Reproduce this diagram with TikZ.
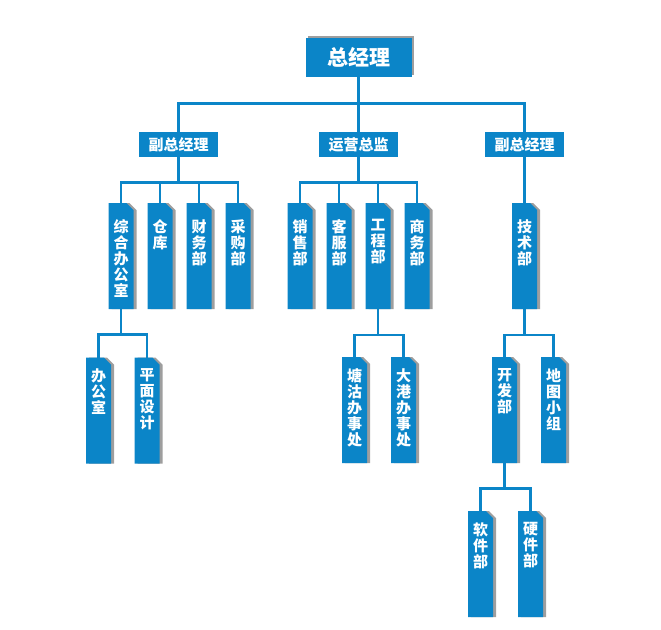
\documentclass[tikz,border=0pt]{standalone}
\usepackage{fontspec}
\newfontfamily\cjk{Noto Sans CJK SC}
\definecolor{obl}{RGB}{11,133,200}
\definecolor{shd}{RGB}{158,158,158}
\tikzset{
  conn/.style={draw=obl, line width=2.6pt},
  gmbox/.style={fill=obl, text=white, minimum width=106pt, minimum height=39pt, inner sep=0pt,
    font=\cjk\bfseries\fontsize{21}{24}\selectfont},
  lvtwo/.style={fill=obl, text=white, minimum width=79pt, minimum height=25pt, inner sep=0pt,
    font=\cjk\bfseries\fontsize{15}{17}\selectfont},
  tallnode/.style={shape=rectangle, minimum width=25pt, minimum height=106pt, inner sep=0pt, anchor=north},
  talltext/.style={anchor=north, text=white, align=center, inner sep=0pt,
    font=\cjk\bfseries\fontsize{15}{16}\selectfont}
}
\newcommand\tbox[5]{%
  \fill[shd] (#2-9.5,#3) -- (#2+8.5,#3) -- (#2+15.5,#3+7) -- (#2+15.5,#3+106) -- (#2-9.5,#3+106) -- cycle;
  \fill[obl] (#2-12.5,#3) -- (#2+5.5,#3) -- (#2+12.5,#3+7) -- (#2+12.5,#3+106) -- (#2-12.5,#3+106) -- cycle;
  \node[tallnode] (#1) at (#2,#3) {};
  \node[talltext] (#1t) at (#2,#3+#4) {#5};
}
\begin{document}
\begin{tikzpicture}[x=1pt,y=-1pt]
\useasboundingbox (0,0) rectangle (661,629);
% top
\fill[shd] (307.5,35.5) rectangle (413.5,74.5);
\node[gmbox] (gm) at (358.5,57.5) {总经理};
% level 2
\node[lvtwo] (vpa) at (178.5,144.5) {副总经理};
\node[lvtwo] (ops) at (358.5,144.5) {运营总监};
\node[lvtwo] (vpb) at (524.5,144.5) {副总经理};
% level 3
\tbox{zh}{121}{203}{16}{综\\合\\办\\公\\室}
\tbox{ck}{160}{203}{16}{仓\\库}
\tbox{cw}{199}{203}{16}{财\\务\\部}
\tbox{cg}{238}{203}{16}{采\\购\\部}
\tbox{xs}{300}{203}{16}{销\\售\\部}
\tbox{kf}{339}{203}{16}{客\\服\\部}
\tbox{gc}{378}{203}{16}{工\\程\\部}
\tbox{sw}{417}{203}{16}{商\\务\\部}
\tbox{js}{524.5}{203}{16}{技\\术\\部}
% level 4
\tbox{bg}{98.5}{357.5}{11}{办\\公\\室}
\tbox{pm}{147}{357.5}{11}{平\\面\\设\\计}
\tbox{tg}{354.5}{357}{11}{塘\\沽\\办\\事\\处}
\tbox{dg}{403.5}{357}{11}{大\\港\\办\\事\\处}
\tbox{kfb}{504.5}{357}{11}{开\\发\\部}
\tbox{dt}{553.5}{357}{11}{地\\图\\小\\组}
% level 5
\tbox{rj}{480.5}{511}{11}{软\\件\\部}
\tbox{yj}{530.5}{511}{11}{硬\\件\\部}
% connectors
\draw[conn] (gm.south) -- ++(0,26) -| (vpa.north);
\draw[conn] (gm.south) -- ++(0,26) -| (vpb.north);
\draw[conn] (gm.south) -- (ops.north);
\foreach \c in {zh,ck,cw,cg}{\draw[conn] (vpa.south) -- ++(0,25) -| (\c.north);}
\foreach \c in {xs,kf,gc,sw}{\draw[conn] (ops.south) -- ++(0,25) -| (\c.north);}
\draw[conn] (vpb.south) -- (js.north);
\foreach \c in {bg,pm}{\draw[conn] (zh.south) -- ++(0,25) -| (\c.north);}
\foreach \c in {tg,dg}{\draw[conn] (gc.south) -- ++(0,25.5) -| (\c.north);}
\foreach \c in {kfb,dt}{\draw[conn] (js.south) -- ++(0,25.5) -| (\c.north);}
\foreach \c in {rj,yj}{\draw[conn] (kfb.south) -- ++(0,25) -| (\c.north);}
\end{tikzpicture}
\end{document}
